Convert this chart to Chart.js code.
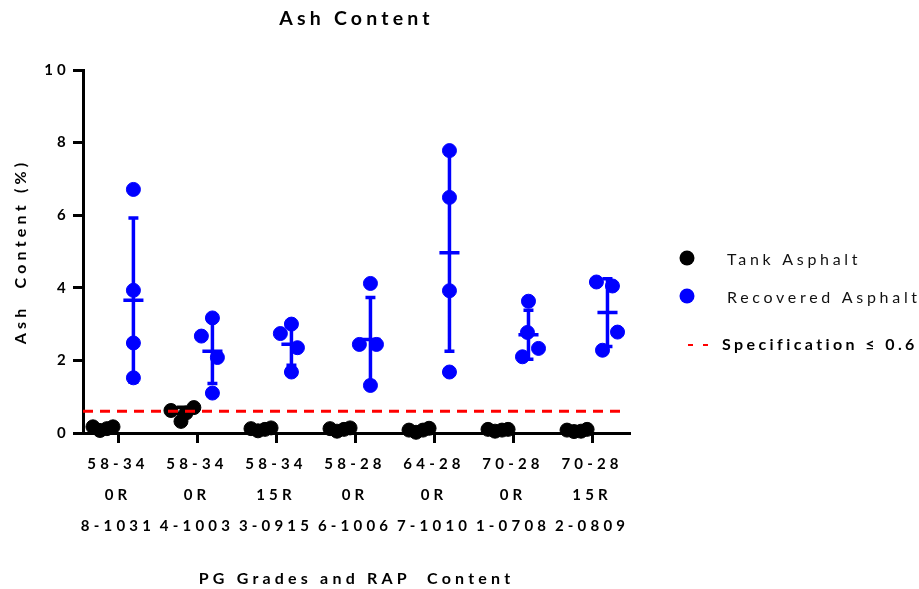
<!DOCTYPE html>
<html>
<head>
<meta charset="utf-8">
<script src="https://cdn.jsdelivr.net/npm/chart.js@4.4.1/dist/chart.umd.min.js"></script>
<style>
  html, body { margin: 0; padding: 0; background: #fff; }
  canvas { display: block; }
</style>
</head>
<body>
<canvas id="chart" width="919" height="589"></canvas>
<script>
// ====== data ======
const GRADES  = ['58-34', '58-34', '58-34', '58-28', '64-28', '70-28', '70-28'];
const RAP     = ['0R', '0R', '15R', '0R', '0R', '0R', '15R'];
const SAMPLES = ['8-1031', '4-1003', '3-0915', '6-1006', '7-1010', '1-0708', '2-0809'];

// ash content (%) per grade, four replicates each
const TANK = [
    [0.17, 0.07, 0.12, 0.17],
    [0.62, 0.32, 0.55, 0.70],
    [0.12, 0.06, 0.10, 0.14],
    [0.12, 0.05, 0.10, 0.14],
    [0.08, 0.02, 0.08, 0.13],
    [0.10, 0.05, 0.08, 0.10],
    [0.08, 0.04, 0.05, 0.10],
];
const RECOVERED = [
    [6.71, 3.93, 2.48, 1.52],
    [2.67, 3.17, 2.08, 1.10],
    [2.74, 3.00, 2.35, 1.68],
    [4.12, 2.44, 2.44, 1.31],
    [7.78, 6.49, 3.92, 1.68],
    [3.63, 2.77, 2.10, 2.33],
    [4.16, 4.05, 2.78, 2.28],
];
const SPEC_LIMIT = 0.6;
const Y_MIN = 0, Y_MAX = 10, Y_STEP = 2;

// ====== layout (category units, not data) ======
const X_MIN = 0.557, X_MAX = 7.48, SPEC_END = 7.37;
const TANK_SHIFT = -0.19, REC_SHIFT = 0.195;
const MEAN_HALF = 0.127, CAP_HALF = 0.063;
// horizontal scatter so the dots don't hide each other (like Prism does)
const TANK_JITTER = [
    [-0.127, -0.038, 0.05, 0.127],
    [-0.14, -0.013, 0.05, 0.15],
    [-0.127, -0.038, 0.05, 0.127],
    [-0.127, -0.038, 0.05, 0.127],
    [-0.127, -0.038, 0.05, 0.127],
    [-0.127, -0.038, 0.05, 0.127],
    [-0.127, -0.038, 0.05, 0.127],
];
const REC_JITTER = [
    [0, 0, 0, 0],
    [-0.14, 0, 0.063, 0],
    [-0.14, 0, 0.076, 0],
    [0, -0.14, 0.076, 0],
    [0, 0, 0, 0],
    [0, -0.013, -0.076, 0.127],
    [-0.14, 0.063, 0.127, -0.063],
];

const BLUE = '#0000ff';
const BLACK = '#000000';
const RED = '#ff0000';
const FONT = 'Lato';

Chart.defaults.font.family = FONT;
Chart.defaults.color = BLACK;

// ====== helpers ======
const mean = (v) => v.reduce((a, b) => a + b, 0) / v.length;
const sd = (v) => {
    const m = mean(v);
    return Math.sqrt(v.reduce((a, b) => a + (b - m) ** 2, 0) / (v.length - 1));
};

function scatterPoints(groups, shift, jitter) {
    return groups.flatMap((vals, i) => vals.map((y, j) => ({ x: i + 1 + shift + jitter[i][j], y })));
}

// mean line + SD whiskers with caps, segments split by null gaps
function errorBarPoints(groups, shift) {
    const pts = [];
    groups.forEach((vals, i) => {
        const x = i + 1 + shift;
        const m = mean(vals), s = sd(vals);
        const gap = { x, y: null };
        pts.push({ x: x - MEAN_HALF, y: m }, { x: x + MEAN_HALF, y: m }, gap);
        pts.push({ x, y: m - s }, { x, y: m + s }, gap);
        pts.push({ x: x - CAP_HALF, y: m + s }, { x: x + CAP_HALF, y: m + s }, gap);
        pts.push({ x: x - CAP_HALF, y: m - s }, { x: x + CAP_HALF, y: m - s }, gap);
    });
    return pts;
}

const barStyle = (color) => ({
    showLine: true, spanGaps: false, borderColor: color, borderWidth: 3.5,
    borderCapStyle: 'butt', pointRadius: 0, clip: false,
});
const dotStyle = (color) => ({
    showLine: false, backgroundColor: color, borderColor: color, borderWidth: 1,
    pointRadius: 7, clip: false,
});

// ====== plugins ======
// spaced-out lettering like the original figure
const spacing = {
    id: 'spacing',
    beforeDraw(chart) { chart.ctx.letterSpacing = '4.2px'; },
};

const sideLegend = {
    id: 'sideLegend',
    afterDraw(chart) {
        const ctx = chart.ctx;
        ctx.save();
        ctx.textBaseline = 'middle';
        ctx.textAlign = 'left';
        ctx.letterSpacing = '3.7px';
        ctx.font = `16px ${FONT}`;
        [[BLACK, 'Tank Asphalt', 258], [BLUE, 'Recovered Asphalt', 296]].forEach(([c, t, y]) => {
            ctx.fillStyle = c;
            ctx.beginPath();
            ctx.arc(687, y, 7.5, 0, Math.PI * 2);
            ctx.fill();
            ctx.fillStyle = '#111';
            ctx.fillText(t, 727, y + 2);
        });
        ctx.strokeStyle = RED;
        ctx.lineWidth = 2;
        ctx.beginPath();
        ctx.moveTo(688, 345); ctx.lineTo(693, 345);
        ctx.moveTo(703, 345); ctx.lineTo(708, 345);
        ctx.stroke();
        ctx.letterSpacing = '3.4px';
        ctx.font = `bold 16px ${FONT}`;
        ctx.fillStyle = BLACK;
        ctx.fillText('Specification \u2264 0.6', 722, 345);
        ctx.restore();
    },
};

// ====== chart ======
new Chart(document.getElementById('chart'), {
    type: 'scatter',
    data: {
        datasets: [
            {
                label: 'Specification \u2264 0.6',
                data: [{ x: X_MIN, y: SPEC_LIMIT }, { x: SPEC_END, y: SPEC_LIMIT }],
                ...barStyle(RED), borderWidth: 3, borderDash: [10, 7], order: 0,
            },
            { label: 'Recovered SD', data: errorBarPoints(RECOVERED, REC_SHIFT), ...barStyle(BLUE), order: 1 },
            { label: 'Recovered Asphalt', data: scatterPoints(RECOVERED, REC_SHIFT, REC_JITTER), ...dotStyle(BLUE), order: 2 },
            { label: 'Tank SD', data: errorBarPoints(TANK, TANK_SHIFT), ...barStyle(BLACK), order: 3 },
            { label: 'Tank Asphalt', data: scatterPoints(TANK, TANK_SHIFT, TANK_JITTER), ...dotStyle(BLACK), order: 4 },
        ],
    },
    options: {
        responsive: false,
        animation: false,
        events: [],
        layout: { padding: { top: 0, right: 289, bottom: 0, left: 0 } },
        plugins: {
            legend: { display: false },
            tooltip: { enabled: false },
            title: {
                display: true,
                text: 'Ash Content',
                fullSize: false,
                color: BLACK,
                font: { size: 19.5, weight: 'bold', lineHeight: '23px' },
                padding: { top: 7, bottom: 40 },
            },
        },
        scales: {
            x: {
                type: 'linear',
                min: X_MIN,
                max: X_MAX,
                afterFit: (s) => { s.height = 156; },
                afterBuildTicks: (s) => { s.ticks = GRADES.map((_, i) => ({ value: i + 1 })); },
                border: { display: true, color: BLACK, width: 3 },
                grid: { drawOnChartArea: false, drawTicks: true, tickLength: 10, tickWidth: 3, tickColor: BLACK },
                ticks: {
                    autoSkip: false, maxRotation: 0, minRotation: 0, padding: 6,
                    color: BLACK,
                    font: { size: 15, weight: 'bold', lineHeight: '31px' },
                    callback: (v, i) => [GRADES[i], RAP[i], SAMPLES[i]],
                },
                title: {
                    display: true,
                    text: 'PG Grades and RAP  Content',
                    color: BLACK,
                    font: { size: 16, weight: 'bold', lineHeight: '19px' },
                    padding: { top: 0, bottom: 1 },
                },
            },
            y: {
                min: Y_MIN,
                max: Y_MAX,
                afterFit: (s) => { s.width = 83; },
                border: { display: true, color: BLACK, width: 3 },
                grid: { drawOnChartArea: false, drawTicks: true, tickLength: 10, tickWidth: 3, tickColor: BLACK },
                ticks: { stepSize: Y_STEP, padding: 3, color: BLACK, font: { size: 15, weight: 'bold' } },
                title: {
                    display: true,
                    text: 'Ash  Content (%)',
                    color: BLACK,
                    font: { size: 16, weight: 'bold', lineHeight: '19px' },
                    padding: { top: 11, bottom: 0 },
                },
            },
        },
    },
    plugins: [spacing, sideLegend],
});
</script>
</body>
</html>
